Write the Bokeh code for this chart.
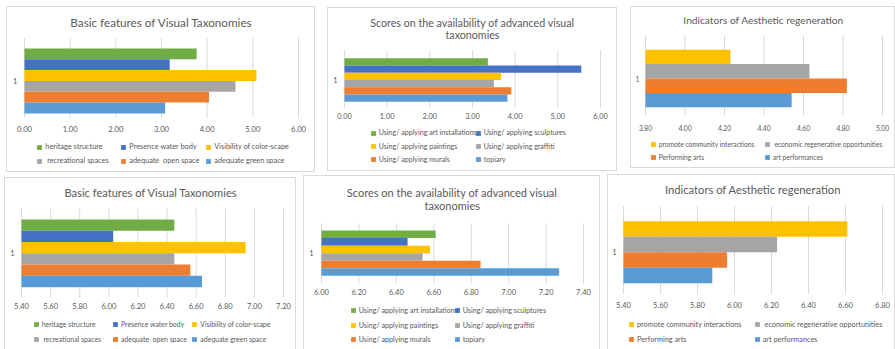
from bokeh.plotting import figure
from bokeh.models import (Range1d, FixedTicker, Legend, LegendItem, Label,
                          ColumnDataSource, NumeralTickFormatter)
from bokeh.layouts import row, column
from bokeh.transform import dodge
from bokeh.embed import file_html
from bokeh.resources import INLINE

# ---------------- data ----------------
category = [1]

basic_labels = ["heritage structure", "Presence water body", "Visibility of color-scape",
                " recreational spaces", "adequate  open space", "adequate green space"]
basic_top = [3.77, 3.18, 5.08, 4.62, 4.04, 3.08]
basic_bottom = [6.45, 6.03, 6.94, 6.45, 6.56, 6.64]

adv_labels = ["Using/ applying art installations", "Using/ applying sculptures",
              "Using/ applying paintings", "Using/ applying graffiti",
              "Using/ applying murals", "topiary"]
adv_top = [3.36, 5.55, 3.67, 3.50, 3.91, 3.82]
adv_bottom = [6.61, 6.46, 6.58, 6.54, 6.85, 7.27]

aes_labels = ["promote community interactions", " economic regenerative opportunities",
              "Performing arts", "art performances"]
aes_top = [4.23, 4.63, 4.82, 4.54]
aes_bottom = [6.61, 6.23, 5.96, 5.88]

six_colors = ["#70AD47", "#4472C4", "#FFC000", "#A5A5A5", "#ED7D31", "#5B9BD5"]
four_colors = ["#FFC000", "#A5A5A5", "#ED7D31", "#5B9BD5"]

ticks_p1 = [0, 1, 2, 3, 4, 5, 6]
ticks_p2 = [0, 1, 2, 3, 4, 5, 6]
ticks_p3 = [3.8, 4.0, 4.2, 4.4, 4.6, 4.8, 5.0]
ticks_p4 = [5.4, 5.6, 5.8, 6.0, 6.2, 6.4, 6.6, 6.8, 7.0, 7.2]
ticks_p5 = [6.0, 6.2, 6.4, 6.6, 6.8, 7.0, 7.2, 7.4]
ticks_p6 = [5.4, 5.6, 5.8, 6.0, 6.2, 6.4, 6.6, 6.8]

title_basic = ["Basic features of Visual Taxonomies"]
title_adv = ["Scores on the availability of advanced visual", "taxonomies"]
title_aes = ["Indicators of Aesthetic regeneration"]

FONT = "Lato"
TXT = "#595959"
GRID = "#D9D9D9"
SHADOW_ALL = {"box-shadow": "inset 0 0 0 1px #D9D9D9"}
SHADOW_OPEN = {"box-shadow": "inset 1px 1px 0 0 #D9D9D9, inset -1px 0 0 0 #D9D9D9"}


def panel(labels, values, colors, ticks, titles, cfg):
    x0, y0, w, h = cfg["box"]                  # chart box on the page
    fx0, fy0, fx1, fy1 = cfg["frame"]          # plot area inside the box
    xmin, xmax = ticks[0], ticks[-1]
    k = (xmax - xmin) / (fx1 - fx0)            # data units per pixel
    H = fy1 - fy0
    c = cfg["center"]
    t = cfg["bar"] / H
    ytop = 1 + (c - fy0) / H
    ybot = 1 - (fy1 - c) / H
    p = figure(width=w, height=h,
               x_range=Range1d(xmin - (fx0 - x0) * k, xmax + (x0 + w - fx1) * k),
               y_range=Range1d(1 - (y0 + h - c) / H, 1 + (c - y0) / H),
               min_border=0, title=None, toolbar_location=None,
               output_backend="svg", margin=cfg["margin"], styles=cfg["styles"])
    p.border_fill_color = None
    p.background_fill_color = None
    p.outline_line_color = None
    p.xgrid.visible = False
    p.ygrid.visible = False

    # value gridlines limited to the plot area
    p.segment(x0="t", x1="t", y0=ybot, y1=ytop, source=ColumnDataSource(dict(t=ticks)),
              line_color=GRID, line_width=1)

    n = len(values)
    proxies = []
    for i, (v, col) in enumerate(zip(values, colors)):
        src = ColumnDataSource(dict(cat=category, v=[v]))
        p.hbar(y=dodge("cat", ((n - 1) / 2 - i) * t), left=xmin, right="v",
               height=t, fill_color=col, line_color=None, source=src)
        proxies.append(p.scatter(x=[float("nan")], y=[float("nan")], marker="square",
                                 size=5, fill_color=col, line_color=None))

    p.xaxis.ticker = FixedTicker(ticks=ticks)
    p.xaxis.formatter = NumeralTickFormatter(format="0.00")
    p.xaxis.fixed_location = ybot
    p.yaxis.ticker = FixedTicker(ticks=category)
    p.yaxis.fixed_location = xmin
    for ax in (p.xaxis[0], p.yaxis[0]):
        ax.axis_line_color = None
        ax.major_tick_line_color = None
        ax.minor_tick_line_color = None
        ax.major_tick_out = 0
        ax.major_tick_in = 0
        ax.minor_tick_out = 0
        ax.minor_tick_in = 0
        ax.major_label_text_font = FONT
        ax.major_label_text_color = TXT
        ax.major_label_text_font_size = cfg["tick_size"]
    p.xaxis.major_label_standoff = cfg["tick_standoff"]
    p.yaxis.major_label_standoff = cfg["y_standoff"]

    for text, (tx, ty) in zip(titles, cfg["title_pos"]):
        p.add_layout(Label(x=tx - x0, y=(y0 + h) - ty, x_units="screen", y_units="screen",
                           text=text, text_align="center", text_baseline="middle",
                           text_font=FONT, text_font_size=cfg["title_size"],
                           text_color=TXT))

    # one legend per entry, laid out on Excel's legend grid
    gw, gh = 12, 12
    ncols = len(cfg["cols"])
    for i, lab in enumerate(labels):
        mx = cfg["cols"][i % ncols]
        ry = cfg["row_y"][i // ncols]
        leg = Legend(items=[LegendItem(label=lab, renderers=[proxies[i]])],
                     location=(mx - gw / 2 - x0, (y0 + h) - (ry + gh / 2)),
                     orientation="horizontal", glyph_width=gw, glyph_height=gh,
                     label_height=gh, label_width=10, label_standoff=cfg["leg_standoff"],
                     spacing=0, padding=0, margin=0, border_line_color=None,
                     background_fill_alpha=0, label_text_font=FONT,
                     label_text_color=TXT, label_text_font_size=cfg["leg_size"])
        p.add_layout(leg)
    return p


p1 = panel(basic_labels, basic_top, six_colors, ticks_p1, title_basic, dict(
    box=(6, 6, 309, 166), frame=(24, 37, 298, 117), center=80.4, bar=10.83,
    margin=(6, 0, 0, 6), styles=SHADOW_ALL, title_pos=[(161, 21.7)], title_size="11.7px",
    tick_size="7.6px", tick_standoff=8, y_standoff=7,
    cols=[39.3, 123.3, 208.3], row_y=[146.7, 160.7], leg_standoff=-2, leg_size="7.35px"))

p2 = panel(adv_labels, adv_top, six_colors, ticks_p2, title_adv, dict(
    box=(327, 7, 290, 164), frame=(344, 50, 600, 107), center=79.5, bar=7.28,
    margin=(7, 0, 0, 12), styles=SHADOW_ALL, title_pos=[(472, 21.7), (472, 34)],
    title_size="10.7px", tick_size="7.4px", tick_standoff=5, y_standoff=7,
    cols=[372.7, 477.7], row_y=[132.7, 146, 159], leg_standoff=-1, leg_size="7.1px"))

p3 = panel(aes_labels, aes_top, four_colors, ticks_p3, title_aes, dict(
    box=(630, 6, 265, 162), frame=(645, 35, 882, 115), center=78, bar=14.4,
    margin=(6, 0, 0, 13), styles=SHADOW_ALL, title_pos=[(763, 19.3)], title_size="10.2px",
    tick_size="6.7px", tick_standoff=9, y_standoff=6,
    cols=[652.7, 766.7], row_y=[144.3, 156.7], leg_standoff=-1, leg_size="6.7px"))

p4 = panel(basic_labels, basic_bottom, six_colors, ticks_p4, title_basic, dict(
    box=(4, 177, 292, 172), frame=(21, 208, 283, 297), center=252.8, bar=11.28,
    margin=(5, 0, 0, 4), styles=SHADOW_OPEN, title_pos=[(150.5, 191.7)], title_size="11.1px",
    tick_size="7.5px", tick_standoff=5, y_standoff=7,
    cols=[35.7, 115, 194.3], row_y=[324.3, 339], leg_standoff=-2, leg_size="6.9px"))

p5 = panel(adv_labels, adv_bottom, six_colors, ticks_p5, title_adv, dict(
    box=(303, 175, 297, 174), frame=(321, 223, 583, 283), center=252.7, bar=7.55,
    margin=(3, 0, 0, 7), styles=SHADOW_OPEN, title_pos=[(451.7, 191.7), (451.7, 205)],
    title_size="11.0px", tick_size="7.5px", tick_standoff=5, y_standoff=8,
    cols=[352.7, 456.7], row_y=[310, 325, 339], leg_standoff=-2, leg_size="7.2px"))

p6 = panel(aes_labels, aes_bottom, four_colors, ticks_p6, title_aes, dict(
    box=(607, 174, 288, 175), frame=(623, 205, 882, 293), center=251.7, bar=15.5,
    margin=(2, 0, 0, 7), styles=SHADOW_OPEN, title_pos=[(752.5, 189.3)], title_size="11.2px",
    tick_size="7.5px", tick_standoff=8, y_standoff=7,
    cols=[631, 756.7], row_y=[324.3, 339], leg_standoff=0, leg_size="7.3px"))

layout = column(row(p1, p2, p3), row(p4, p5, p6))
open("out.html", "w").write(file_html(layout, INLINE))
